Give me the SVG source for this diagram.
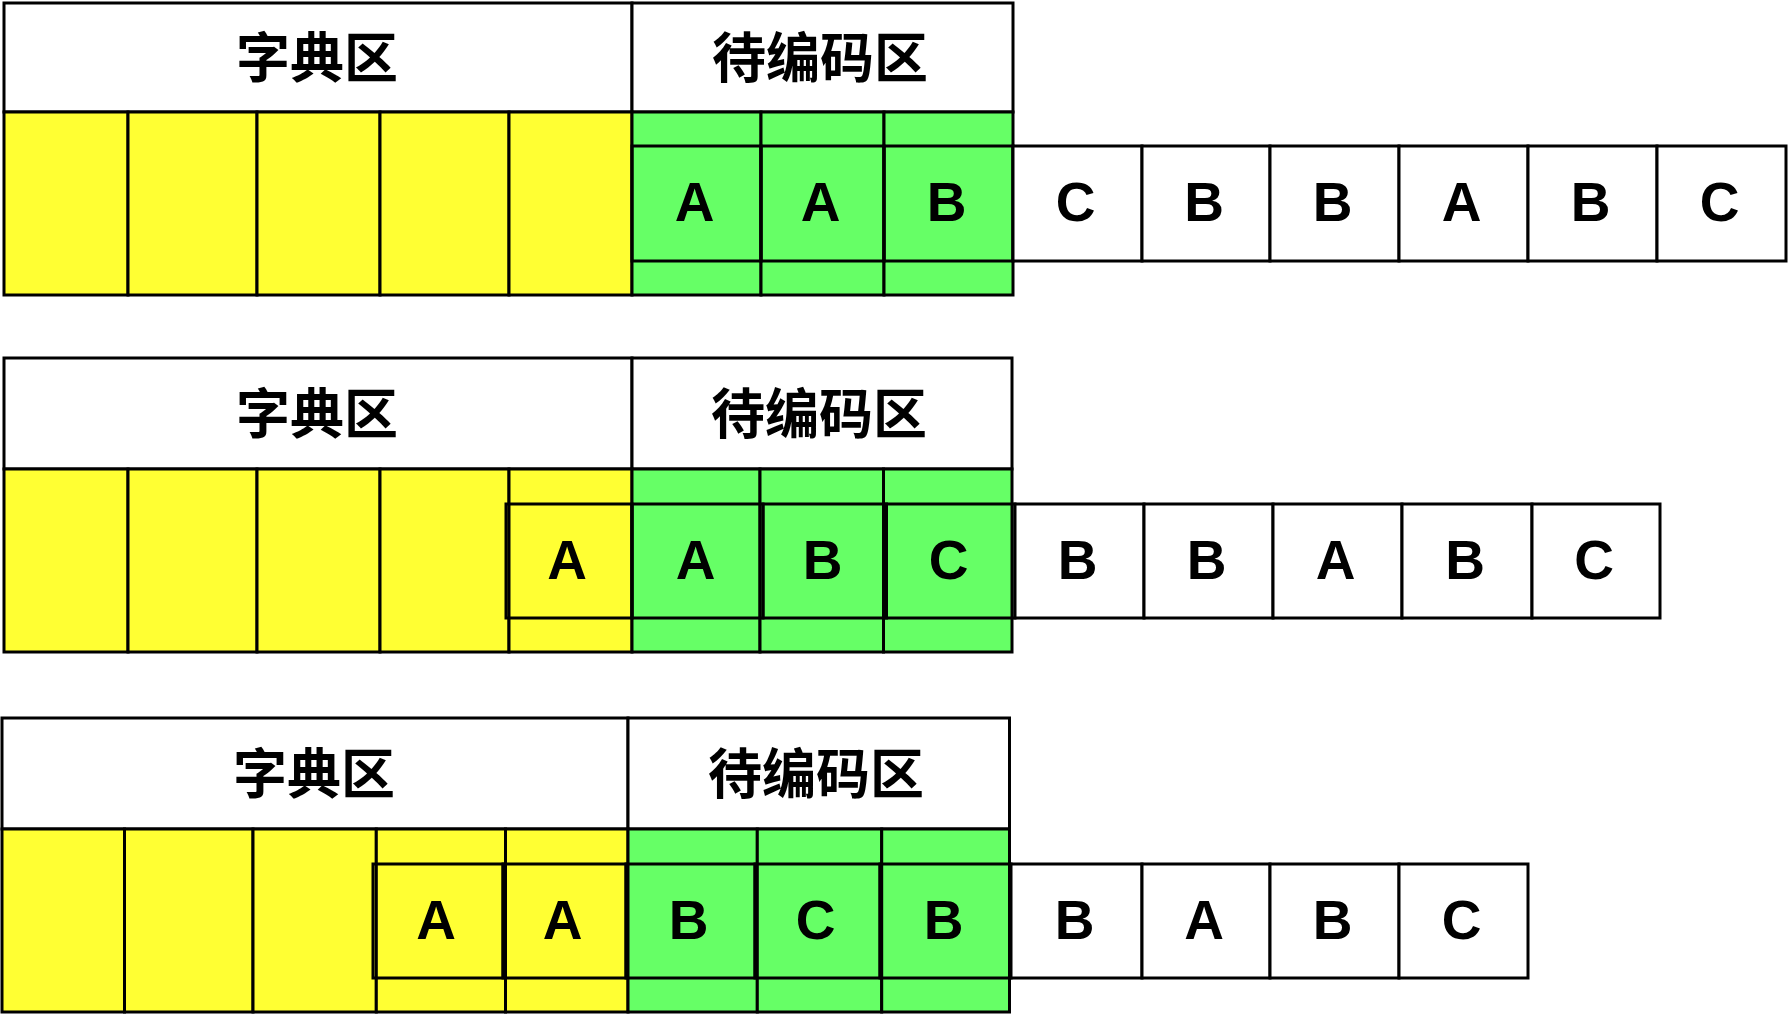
<svg xmlns="http://www.w3.org/2000/svg" width="1788" height="1017" viewBox="0 0 1788 1017">
<style>
rect{stroke:#000;stroke-width:3}
.hd{fill:#fff}
.y{fill:#FFFF33}
.g{fill:#66FF66}
.w{fill:#fff}
.ov{fill:none}
.cjk{font-family:"Noto Sans CJK SC","Noto Sans",sans-serif;font-weight:700;font-size:54px;text-anchor:middle;dominant-baseline:central;fill:#000}
.lt{font-family:"Liberation Sans",Arial,sans-serif;font-weight:700;font-size:55px;text-anchor:middle;fill:#000}
</style>
<rect x="0" y="0" width="1788" height="1017" fill="#fff" style="stroke:none"/>

<g id="panel1">
  <g id="p1-header">
    <rect class="hd" x="4" y="3" width="628" height="109"/>
    <text class="cjk" x="317" y="54">字典区</text>
    <rect class="hd" x="632" y="3" width="381" height="109"/>
    <text class="cjk" x="820" y="54">待编码区</text>
  </g>
  <g id="p1-dict">
    <rect class="y" x="4" y="112" width="124" height="183"/>
    <rect class="y" x="128" y="112" width="129" height="183"/>
    <rect class="y" x="257" y="112" width="123" height="183"/>
    <rect class="y" x="380" y="112" width="129" height="183"/>
    <rect class="y" x="509" y="112" width="123" height="183"/>
  </g>
  <g id="p1-window">
    <rect class="g" x="632" y="112" width="129" height="183"/>
    <rect class="g" x="761" y="112" width="123" height="183"/>
    <rect class="g" x="884" y="112" width="129" height="183"/>
  </g>
  <g id="p1-row">
    <rect class="ov" x="632" y="146" width="129" height="115"/><text class="lt" x="694.5" y="221">A</text>
    <rect class="ov" x="761" y="146" width="123" height="115"/><text class="lt" x="820.5" y="221">A</text>
    <rect class="ov" x="884" y="146" width="129" height="115"/><text class="lt" x="946.5" y="221">B</text>
    <rect class="w" x="1013" y="146" width="129" height="115"/><text class="lt" x="1075.5" y="221">C</text>
    <rect class="w" x="1142" y="146" width="128" height="115"/><text class="lt" x="1204" y="221">B</text>
    <rect class="w" x="1270" y="146" width="129" height="115"/><text class="lt" x="1332.5" y="221">B</text>
    <rect class="w" x="1399" y="146" width="129" height="115"/><text class="lt" x="1461.5" y="221">A</text>
    <rect class="w" x="1528" y="146" width="129" height="115"/><text class="lt" x="1590.5" y="221">B</text>
    <rect class="w" x="1657" y="146" width="129" height="115"/><text class="lt" x="1719.5" y="221">C</text>
  </g>
</g>

<g id="panel2">
  <g id="p2-header">
    <rect class="hd" x="4" y="358" width="628" height="111"/>
    <text class="cjk" x="317" y="410">字典区</text>
    <rect class="hd" x="632" y="358" width="380" height="111"/>
    <text class="cjk" x="819" y="410">待编码区</text>
  </g>
  <g id="p2-dict">
    <rect class="y" x="4" y="469" width="124" height="183"/>
    <rect class="y" x="128" y="469" width="129" height="183"/>
    <rect class="y" x="257" y="469" width="123" height="183"/>
    <rect class="y" x="380" y="469" width="129" height="183"/>
    <rect class="y" x="509" y="469" width="123" height="183"/>
  </g>
  <g id="p2-window">
    <rect class="g" x="632" y="469" width="128" height="183"/>
    <rect class="g" x="760" y="469" width="123.5" height="183"/>
    <rect class="g" x="883.5" y="469" width="128.5" height="183"/>
  </g>
  <g id="p2-row">
    <rect class="ov" x="506" y="504" width="126" height="114"/><text class="lt" x="567" y="578.5">A</text>
    <rect class="ov" x="632" y="504" width="131" height="114"/><text class="lt" x="695.5" y="578.5">A</text>
    <rect class="ov" x="763" y="504" width="123.5" height="114"/><text class="lt" x="822.5" y="578.5">B</text>
    <rect class="ov" x="886.5" y="504" width="128.5" height="114"/><text class="lt" x="948.5" y="578.5">C</text>
    <rect class="w" x="1015" y="504" width="129" height="114"/><text class="lt" x="1077.5" y="578.5">B</text>
    <rect class="w" x="1144" y="504" width="129" height="114"/><text class="lt" x="1206.5" y="578.5">B</text>
    <rect class="w" x="1273" y="504" width="129" height="114"/><text class="lt" x="1335.5" y="578.5">A</text>
    <rect class="w" x="1402" y="504" width="130" height="114"/><text class="lt" x="1465" y="578.5">B</text>
    <rect class="w" x="1532" y="504" width="128" height="114"/><text class="lt" x="1594" y="578.5">C</text>
  </g>
</g>

<g id="panel3">
  <g id="p3-header">
    <rect class="hd" x="2" y="718" width="626" height="111"/>
    <text class="cjk" x="314" y="770.5">字典区</text>
    <rect class="hd" x="628" y="718" width="381.5" height="111"/>
    <text class="cjk" x="816" y="770.5">待编码区</text>
  </g>
  <g id="p3-dict">
    <rect class="y" x="2" y="829" width="122.5" height="183"/>
    <rect class="y" x="124.5" y="829" width="128.5" height="183"/>
    <rect class="y" x="253" y="829" width="123.3" height="183"/>
    <rect class="y" x="376.3" y="829" width="129.2" height="183"/>
    <rect class="y" x="505.5" y="829" width="122.5" height="183"/>
  </g>
  <g id="p3-window">
    <rect class="g" x="628" y="829" width="129.3" height="183"/>
    <rect class="g" x="757.3" y="829" width="124.4" height="183"/>
    <rect class="g" x="881.7" y="829" width="127.8" height="183"/>
  </g>
  <g id="p3-row">
    <rect class="ov" x="373" y="864" width="130" height="114"/><text class="lt" x="436" y="938.5">A</text>
    <rect class="ov" x="503" y="864" width="123" height="114"/><text class="lt" x="562.5" y="938.5">A</text>
    <rect class="ov" x="626" y="864" width="129" height="114"/><text class="lt" x="688.5" y="938.5">B</text>
    <rect class="ov" x="755" y="864" width="125" height="114"/><text class="lt" x="815.5" y="938.5">C</text>
    <rect class="ov" x="880" y="864" width="131" height="114"/><text class="lt" x="943.5" y="938.5">B</text>
    <rect class="w" x="1011" y="864" width="131" height="114"/><text class="lt" x="1074.5" y="938.5">B</text>
    <rect class="w" x="1142" y="864" width="128" height="114"/><text class="lt" x="1204" y="938.5">A</text>
    <rect class="w" x="1270" y="864" width="129" height="114"/><text class="lt" x="1332.5" y="938.5">B</text>
    <rect class="w" x="1399" y="864" width="129" height="114"/><text class="lt" x="1461.5" y="938.5">C</text>
  </g>
</g>

<g id="connectors"></g>
</svg>
